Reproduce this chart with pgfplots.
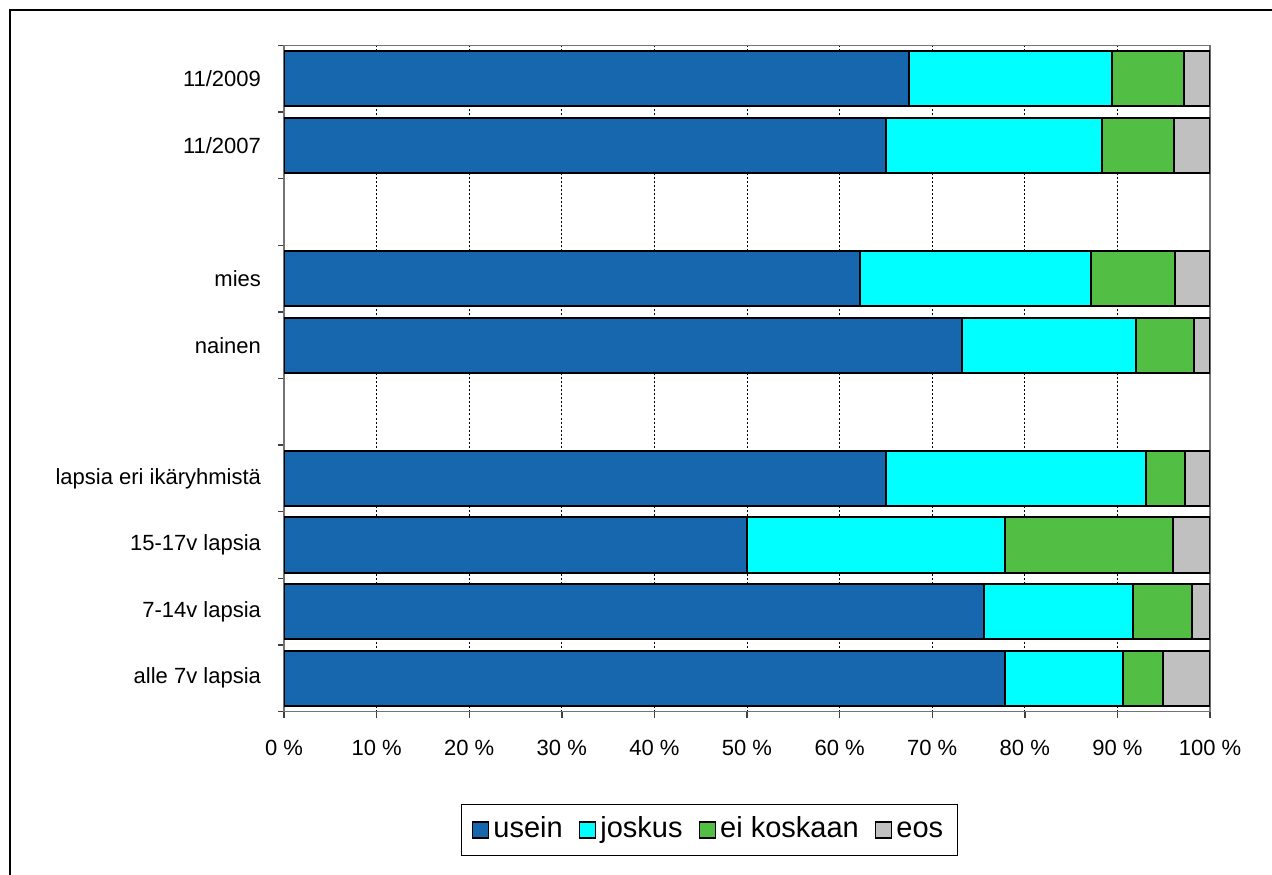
\documentclass[border=0pt]{standalone}
\usepackage{pgfplots}
\pgfplotsset{compat=1.18}
\usepackage{fontspec}
\setmainfont{Liberation Sans}
\definecolor{cUsein}{RGB}{23,103,174}
\definecolor{cJoskus}{RGB}{0,255,255}
\definecolor{cEi}{RGB}{82,190,68}
\definecolor{cEos}{RGB}{192,192,192}
\begin{document}
\begin{tikzpicture}
\path[use as bounding box] (0,0) rectangle (636pt,-437pt);
\draw[line width=1pt] (4.75pt,-440pt) -- (4.75pt,-5pt) -- (640pt,-5pt);
\begin{axis}[
  at={(142pt,-22.75pt)}, anchor=north west,
  scale only axis, width=463pt, height=333pt,
  xbar stacked, bar width=0.83,
  xmin=0, xmax=100, ymin=-0.5, ymax=9.5,
  xtick={0,10,...,100},
  xticklabels={0 \%,10 \%,20 \%,30 \%,40 \%,50 \%,60 \%,70 \%,80 \%,90 \%,100 \%},
  ytick={0,...,9},
  yticklabels={alle 7v lapsia,7-14v lapsia,15-17v lapsia,lapsia eri ikäryhmistä,{},nainen,mies,{},11/2007,11/2009},
  minor ytick={-0.5,0.5,...,9.5},
  major y tick style={draw=none},
  tick align=outside,
  major tick length=3pt, minor tick length=3pt,
  xtick pos=bottom, ytick pos=left,
  tick style={draw=black!75, line width=0.7pt},
  axis line style={draw=black!55, line width=0.8pt},
  xmajorgrids,
  grid style={black, dash pattern=on 1pt off 1pt, line width=0.4pt},
  tick label style={font=\fontsize{11}{13}\selectfont},
  xticklabel style={yshift=-8pt},
  yticklabel style={xshift=-5pt},
  every axis plot/.append style={draw=black, line width=1pt},
  legend style={at={(0.4595,-0.178)}, anchor=center, draw=black, line width=0.5pt,
    font=\fontsize{14.5}{16}\selectfont, inner xsep=5pt, inner ysep=4pt,
    nodes={text height=10.5pt, text depth=3pt}},
  legend columns=4,
  legend cell align=left,
  /tikz/every even column/.append style={column sep=6pt},
  legend image code/.code={\draw[#1,line width=0.8pt,draw=black] (0pt,-4pt) rectangle (8pt,4pt);},
]
\addplot[fill=cUsein] coordinates {(77.9,0) (75.6,1) (50.0,2) (65.0,3) (73.2,5) (62.2,6) (65.0,8) (67.5,9)};
\addplot[fill=cJoskus] coordinates {(12.7,0) (16.1,1) (27.9,2) (28.1,3) (18.8,5) (24.9,6) (23.3,8) (21.9,9)};
\addplot[fill=cEi] coordinates {(4.3,0) (6.4,1) (18.1,2) (4.2,3) (6.3,5) (9.1,6) (7.8,8) (7.8,9)};
\addplot[fill=cEos] coordinates {(5.1,0) (1.9,1) (4.0,2) (2.7,3) (1.7,5) (3.8,6) (3.9,8) (2.8,9)};
\legend{usein,joskus,ei koskaan,eos}
\end{axis}
\end{tikzpicture}
\end{document}
